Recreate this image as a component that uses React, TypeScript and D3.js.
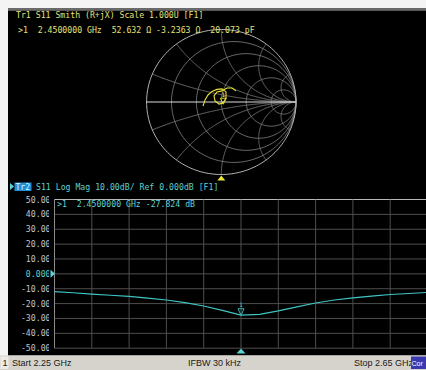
import React, { useEffect } from 'react';
import * as d3 from 'd3';

const W = 426;
const H = 370;

// Lower trace: S11 Log Mag (dB) vs frequency (GHz)
const freqGHz = [2.25, 2.27, 2.29, 2.31, 2.33, 2.35, 2.37, 2.39, 2.41, 2.43, 2.45, 2.47, 2.49, 2.51, 2.53, 2.55, 2.57, 2.59, 2.61, 2.63, 2.65];
const s11LogMag = [-11.9, -12.7, -13.6, -14.4, -15.2, -16.3, -17.6, -19.4, -21.6, -24.6, -27.8, -27.3, -24.9, -22.2, -19.6, -17.6, -16.1, -15.0, -13.9, -13.2, -12.5];
const yTicks = [50, 40, 30, 20, 10, 0, -10, -20, -30, -40, -50];
const yTickLabels = ['50.00', '40.00', '30.00', '20.00', '10.00', '0.000', '-10.00', '-20.00', '-30.00', '-40.00', '-50.00'];
const xGridFreqs = [2.25, 2.29, 2.33, 2.37, 2.41, 2.45, 2.49, 2.53, 2.57, 2.61, 2.65];
const markerFreq = 2.45;
const markerDb = -27.824;

// Upper trace: S11 reflection coefficient (real, imag)
const gammaRe = [-0.245, -0.218, -0.178, -0.124, -0.058, 0.009, 0.063, 0.063, 0.023, -0.031, -0.084, -0.098, -0.058, 0.009, 0.076, 0.143, 0.197];
const gammaIm = [-0.056, 0.028, 0.097, 0.146, 0.174, 0.181, 0.139, 0.056, -0.014, -0.028, 0.014, 0.083, 0.139, 0.153, 0.194, 0.194, 0.153];
const markerGamma = [0.0266, -0.0307];
const resistanceCircles = [0.2, 0.5, 1, 2, 5];
const reactanceArcs = [0.2, 0.5, 1, 2, 5, -0.2, -0.5, -1, -2, -5];

const smithTitle = 'Tr1 S11 Smith (R+jX) Scale 1.000U [F1]';
const smithMarkerText = '>1  2.4500000 GHz  52.632 \u03A9 -3.2363 \u03A9  20.073 pF';
const logHeader = 'S11 Log Mag 10.00dB/ Ref 0.000dB [F1]';
const logMarkerText = '>1  2.4500000 GHz -27.824 dB';

const MONO = "'DejaVu Sans Mono', 'Liberation Mono', monospace";
const SANS = "'Liberation Sans', 'DejaVu Sans', sans-serif";
const YEL = '#e4e27a';
const CYAN = '#5cd2d2';

export default function App() {
  useEffect(() => {
    document.body.style.margin = '0';
    document.body.style.background = '#ffffff';
  }, []);

  // Smith scales
  const cx = 221.3, cy = 102, rx = 74.7, ry = 72.5;
  const sx = d3.scaleLinear().domain([-1, 1]).range([cx - rx, cx + rx]);
  const sy = d3.scaleLinear().domain([-1, 1]).range([cy + ry, cy - ry]);
  const sLine = d3.line<[number, number]>().x(d => sx(d[0])).y(d => sy(d[1]));

  const circlePts = (r: number): [number, number][] =>
    d3.range(0, 361, 2).map(a => {
      const t = (a * Math.PI) / 180;
      return [r / (1 + r) + Math.cos(t) / (1 + r), Math.sin(t) / (1 + r)];
    });
  const arcPts = (x: number): [number, number][] =>
    d3.range(0, 201).map(i => {
      const phi = (i / 200) * (Math.PI / 2);
      const r = i === 200 ? 1e7 : Math.tan(phi);
      const den = (r + 1) * (r + 1) + x * x;
      return [(r * r - 1 + x * x) / den, (2 * x) / den];
    });

  const trace: [number, number][] = gammaRe.map((re, i) => [re, gammaIm[i]]);

  // Log mag scales
  const xs = d3.scaleLinear().domain([2.25, 2.65]).range([54.5, 427.5]);
  const ys = d3.scaleLinear().domain([-50, 50]).range([348.2, 199.5]);
  const lmLine = d3.line<number>().x((_, i) => xs(freqGHz[i])).y(d => ys(d));

  const mx = sx(markerGamma[0]);
  const my = sy(markerGamma[1]);
  const lx = xs(markerFreq);
  const ly = ys(markerDb);

  return (
    <svg width={W} height={H} style={{ position: 'absolute', left: 0, top: 0, display: 'block' }}>
      <defs>
        <clipPath id="lblclip"><rect x={0} y={190} width={49} height={170} /></clipPath>
        <clipPath id="plotclip"><rect x={54} y={199} width={380} height={150} /></clipPath>
      </defs>
      <rect x={0} y={0} width={W} height={H} fill="#f4f4f4" />
      <rect x={8} y={8} width={W - 8} height={2.5} fill="#6a6a6a" />
      <rect x={8} y={10.5} width={W - 8} height={345} fill="#000" />

      {/* Smith chart */}
      <g fill="none">
        {resistanceCircles.map(r => (
          <path key={'r' + r} d={sLine(circlePts(r)) || ''} stroke="#858585" strokeWidth={0.8} />
        ))}
        {reactanceArcs.map(x => (
          <path key={'x' + x} d={sLine(arcPts(x)) || ''} stroke="#858585" strokeWidth={0.8} />
        ))}
        <path d={sLine(circlePts(0)) || ''} stroke="#b4b4b4" strokeWidth={1} />
        <line x1={sx(-1)} x2={sx(1)} y1={sy(0)} y2={sy(0)} stroke="#dcdcdc" strokeWidth={1} />
        <path d={sLine(trace) || ''} stroke="#e8e23a" strokeWidth={1.1} />
        <path d={`M${mx},${my} l-3,-6 l6,0 z`} stroke="#e8e23a" strokeWidth={0.9} />
        <text x={mx} y={my - 7.5} fill="#e8e23a" fontSize={6} fontFamily={MONO} textAnchor="middle">1</text>
      </g>
      <path d={`M${sx(0)},${sy(-1) + 1} l-4,5 l8,0 z`} fill="#e8e23a" />

      <text x={16} y={17.5} fill={YEL} fontSize={8.2} fontFamily={MONO} style={{ whiteSpace: 'pre' }}>{smithTitle}</text>
      <text x={18} y={32.5} fill={YEL} fontSize={8.2} fontFamily={MONO} style={{ whiteSpace: 'pre' }}>{smithMarkerText}</text>

      {/* Log Mag header */}
      <path d="M10,183 l4,3.5 l-4,3.5 z" fill={CYAN} />
      <rect x={14.5} y={182.5} width={17} height={8.5} fill="#1f8fd8" />
      <text x={15.5} y={189.8} fill="#d8f6ff" fontSize={8} fontFamily={MONO} style={{ whiteSpace: 'pre' }}>Tr2</text>
      <text x={36} y={190} fill={CYAN} fontSize={8.2} fontFamily={MONO} style={{ whiteSpace: 'pre' }}>{logHeader}</text>

      {/* Log Mag grid */}
      <g>
        {yTicks.map((t, i) => (
          <line key={'h' + t} x1={54.5} x2={W} y1={ys(t)} y2={ys(t)}
            stroke={i === 0 ? '#b8b8b8' : '#4e4e4e'} strokeWidth={1} />
        ))}
        {xGridFreqs.map((f, i) => (
          <line key={'v' + f} x1={xs(f)} x2={xs(f)} y1={ys(50)} y2={ys(-50)}
            stroke={i === 0 ? '#8a8a8a' : '#4e4e4e'} strokeWidth={1} />
        ))}
      </g>
      <g clipPath="url(#lblclip)">
        {yTicks.map((t, i) => (
          <text key={'l' + t} x={50.5} y={ys(t) + 3} textAnchor="end" fontSize={8.2} fontFamily={MONO}
            fill={t === 0 ? CYAN : '#c4c4c4'}>{yTickLabels[i]}</text>
        ))}
      </g>
      <path d={`M50.5,${ys(0) - 4} l4.5,4 l-4.5,4 z`} fill={CYAN} />

      <text x={57} y={206.5} fill={CYAN} fontSize={8.2} fontFamily={MONO} style={{ whiteSpace: 'pre' }}>{logMarkerText}</text>

      <g clipPath="url(#plotclip)">
        <path d={lmLine(s11LogMag) || ''} fill="none" stroke="#3fc4c4" strokeWidth={1.2} />
      </g>
      <path d={`M${lx},${ly} l-3,-6.5 l6,0 z`} fill="none" stroke="#3fc4c4" strokeWidth={0.9} />
      <text x={lx} y={ly - 8} fill="#3fc4c4" fontSize={6} fontFamily={MONO} textAnchor="middle">1</text>
      <path d={`M${lx},${348.5} l-4.5,5 l9,0 z`} fill={CYAN} />

      {/* Status bar */}
      <rect x={0} y={355.5} width={W} height={14.5} fill="#d6d3cc" />
      <rect x={0.5} y={356.5} width={8} height={12.5} fill="#ecebe6" />
      <text x={2.5} y={366} fontSize={9} fontFamily={SANS} fill="#202020">1</text>
      <text x={12} y={366} fontSize={9} fontFamily={SANS} fill="#202020">Start 2.25 GHz</text>
      <text x={188} y={366} fontSize={9} fontFamily={SANS} fill="#202020">IFBW 30 kHz</text>
      <text x={354} y={366} fontSize={9} fontFamily={SANS} fill="#202020">Stop 2.65 GHz</text>
      <rect x={411} y={356.5} width={15} height={12.5} fill="#3a3ab0" />
      <text x={411.5} y={365.5} fontSize={7} fontFamily={SANS} fill="#ffffff">Cor</text>
    </svg>
  );
}
